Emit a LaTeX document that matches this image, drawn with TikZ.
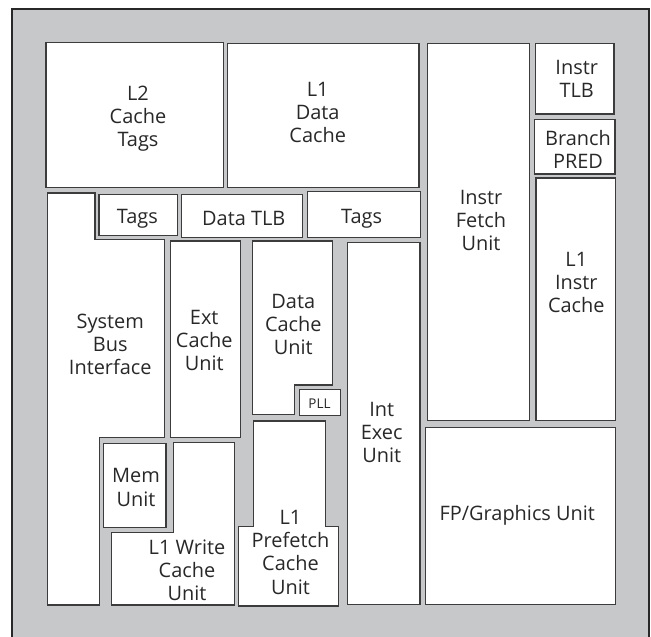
\documentclass[tikz,border=0pt]{standalone}
\usepackage{fontspec}
\setmainfont{Open Sans}
\definecolor{framegray}{RGB}{199,200,202}
\definecolor{frameline}{RGB}{40,40,40}
\definecolor{boxline}{RGB}{60,60,60}
\definecolor{txt}{RGB}{40,40,40}
\tikzset{
  blk/.style={fill=white, draw=boxline, line width=1.1bp, line join=miter},
  lbl/.style={anchor=north, align=center, inner sep=0pt, text=txt,
    font=\fontsize{20}{23.3}\selectfont, execute at begin node=\strut},
  small/.style={anchor=base, inner sep=0pt, text=txt, font=\fontsize{13.5}{16}\selectfont}
}
\newcommand\lab[4]{\node[lbl] (#1) at (#2,{#3-13.31}) {#4};}
\begin{document}
\begin{tikzpicture}[x=1bp,y=-1bp]
\useasboundingbox (0,0) rectangle (651,637);
\fill[white] (0,0) rectangle (651,637);
% frame
\fill[framegray] (12,9) rectangle (649,637);
\draw[frameline, line width=2.2bp] (12,640) -- (12,9) -- (649,9) -- (649,640);
% rectangles
\draw[blk] (46,42.5) rectangle (223.3,187.3);      % L2 cache tags
\draw[blk] (227.3,43.3) rectangle (419,187.3);     % L1 data cache
\draw[blk] (427.3,43.3) rectangle (529.3,420.7);   % instr fetch
\draw[blk] (535.7,43.3) rectangle (614,114);       % instr TLB
\draw[blk] (534.7,119.3) rectangle (615,174);      % branch pred
\draw[blk] (536,178) rectangle (615.5,420.7);      % L1 instr cache
\draw[blk] (425.3,427.3) rectangle (615.3,604.7);  % FP
\draw[blk] (347.3,242.5) rectangle (420,604.7);    % int exec
\draw[blk] (307.3,191.7) rectangle (420.3,237.7);  % tags right
\draw[blk] (181.7,194.3) rectangle (302.7,237.7);  % data TLB
\draw[blk] (99,194.3) rectangle (177.3,235.3);     % tags left
\draw[blk] (170.3,241) rectangle (240.7,437.5);    % ext cache
\draw[blk] (299.3,389.3) rectangle (340.7,415.3);  % PLL
\draw[blk] (103.3,443.3) rectangle (166,527.7);    % mem unit
% polygons
\draw[blk] (47.5,193) -- (95,193) -- (95,239.3) -- (164.3,239.3) -- (164.3,437.7)
  -- (99.3,437.7) -- (99.3,605) -- (47.5,605) -- cycle;  % system bus
\draw[blk] (252.8,241) -- (332.2,241) -- (332.2,385) -- (294.2,385) -- (294.2,414.8)
  -- (252.8,414.8) -- cycle;  % data cache unit
\draw[blk] (253.3,421) -- (325.5,421) -- (325.5,526.7) -- (338.3,526.7) -- (338.3,606)
  -- (238.7,606) -- (238.7,526.7) -- (253.3,526.7) -- cycle;  % prefetch
\draw[blk] (173.3,442.3) -- (234.7,442.3) -- (234.7,605) -- (111.3,605) -- (111.3,532.3)
  -- (173.3,532.3) -- cycle;  % L1 write
% labels
\lab{l2}{138}{99}{L2\\Cache\\Tags}
\lab{l1d}{317.7}{95}{L1\\Data\\Cache}
\lab{ifu}{481}{203.3}{Instr\\Fetch\\Unit}
\lab{itlb}{576.7}{73.3}{Instr\\TLB}
\lab{bp}{578}{143.3}{Branch\\PRED}
\lab{l1i}{576.3}{265}{L1\\Instr\\Cache}
\lab{fp}{517.3}{517.3}{FP/Graphics Unit}
\lab{ieu}{381.7}{415}{Int\\Exec\\Unit}
\lab{tagsr}{361.7}{220}{Tags}
\lab{dtlb}{243.8}{222.7}{Data TLB}
\lab{tagsl}{137.3}{220.7}{Tags}
\lab{sbi}{110.3}{326.7}{System\\Bus\\Interface}
\lab{ecu}{204.2}{323.3}{Ext\\Cache\\Unit}
\lab{dcu}{293.3}{307.3}{Data\\Cache\\Unit}
\lab{mem}{136}{481.7}{Mem\\Unit}
\lab{l1w}{187}{552.7}{L1 Write\\Cache\\Unit}
\lab{pf}{290.5}{523.3}{L1\\Prefetch\\Cache\\Unit}
\node[small] (pll) at (319.5,408.3) {PLL};
\end{tikzpicture}
\end{document}
